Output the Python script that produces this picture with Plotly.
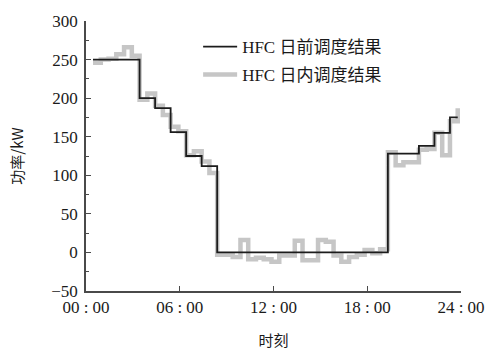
import numpy as np
import plotly.graph_objects as go

# half-hour slot start times (hours)
slot_hours = list(np.linspace(0.45, 23.79, 48))

# HFC day-ahead schedule (kW), per half-hour slot
day_ahead = [250, 250, 250, 250, 250, 250, 200, 200, 187, 187, 156, 156,
             125, 125, 112, 112, 0, 0, 0, 0, 0, 0, 0, 0,
             0, 0, 0, 0, 0, 0, 0, 0, 0, 0, 0, 0,
             0, 0, 128, 128, 128, 128, 138, 138, 155, 155, 175, 175]

# HFC intraday schedule (kW), per half-hour slot
intraday = [246, 250, 251, 257, 266, 255, 198, 206, 190, 178, 163, 157,
            126, 131, 118, 103, -3, -3, -6, 16, -9, -7, -9, -12,
            -4, -4, 15, -10, -10, 16, 14, -4, -12, -6, -3, 3,
            -1, 4, 130, 113, 117, 117, 133, 134, 155, 126, 170, 187]

x_tick_vals = [0, 6, 12, 18, 24]
x_tick_text = ["00 : 00", "06 : 00", "12 : 00", "18 : 00", "24 : 00"]
y_tick_vals = [-50, 0, 50, 100, 150, 200, 250, 300]

SERIF = "Liberation Serif, Noto Sans CJK SC, serif"
AXC = "#4a4a4a"

fig = go.Figure()
fig.add_trace(go.Scatter(
    x=slot_hours, y=intraday, mode="lines", name="HFC 日内调度结果",
    line=dict(shape="hv", color="#c6c6c6", width=4.5), legend="legend2",
    showlegend=True))
fig.add_trace(go.Scatter(
    x=slot_hours, y=day_ahead, mode="lines", name="HFC 日前调度结果",
    line=dict(shape="hv", color="#1c1c1c", width=1.8), legend="legend",
    showlegend=True))

leg_common = dict(xanchor="left", yanchor="middle", bgcolor="rgba(0,0,0,0)",
                  font=dict(family=SERIF, size=17, color="#1a1a1a"),
                  itemwidth=34, borderwidth=0, visible=True)
fig.update_layout(
    width=490, height=350,
    margin=dict(l=86, r=29, t=21, b=59),
    paper_bgcolor="white", plot_bgcolor="white",
    showlegend=True,
    legend=dict(x=0.299, y=(291 - 47) / 270, **leg_common),
    legend2=dict(x=0.299, y=(291 - 75) / 270, **leg_common),
    font=dict(family=SERIF, size=17, color="#1a1a1a"),
)
fig.update_xaxes(
    range=[0, 24], tickvals=x_tick_vals, ticktext=x_tick_text,
    ticks="inside", ticklen=5, tickwidth=1.2, tickcolor=AXC, automargin=False,
    showline=True, linecolor=AXC, linewidth=1.5, showgrid=False, zeroline=False,
    tickfont=dict(family=SERIF, size=17),
    title=dict(text="时刻", font=dict(family="Noto Sans CJK SC", size=15), standoff=20),
)
fig.update_yaxes(
    range=[-50, 300], tickvals=y_tick_vals, automargin=False,
    ticks="inside", ticklen=5, tickwidth=1.2, tickcolor=AXC, ticklabelstandoff=3,
    minor=dict(dtick=25, ticks="inside", ticklen=3, tickcolor=AXC, showgrid=False),
    showline=True, linecolor=AXC, linewidth=1.5, showgrid=False, zeroline=False,
    tickfont=dict(family=SERIF, size=17),
    title=dict(text="功率/kW", font=dict(family="Noto Sans CJK SC", size=15), standoff=24),
)

fig.write_html("out.html", config={"displayModeBar": False},
               post_script="document.body.style.margin='0px';document.body.style.padding='0px';")
